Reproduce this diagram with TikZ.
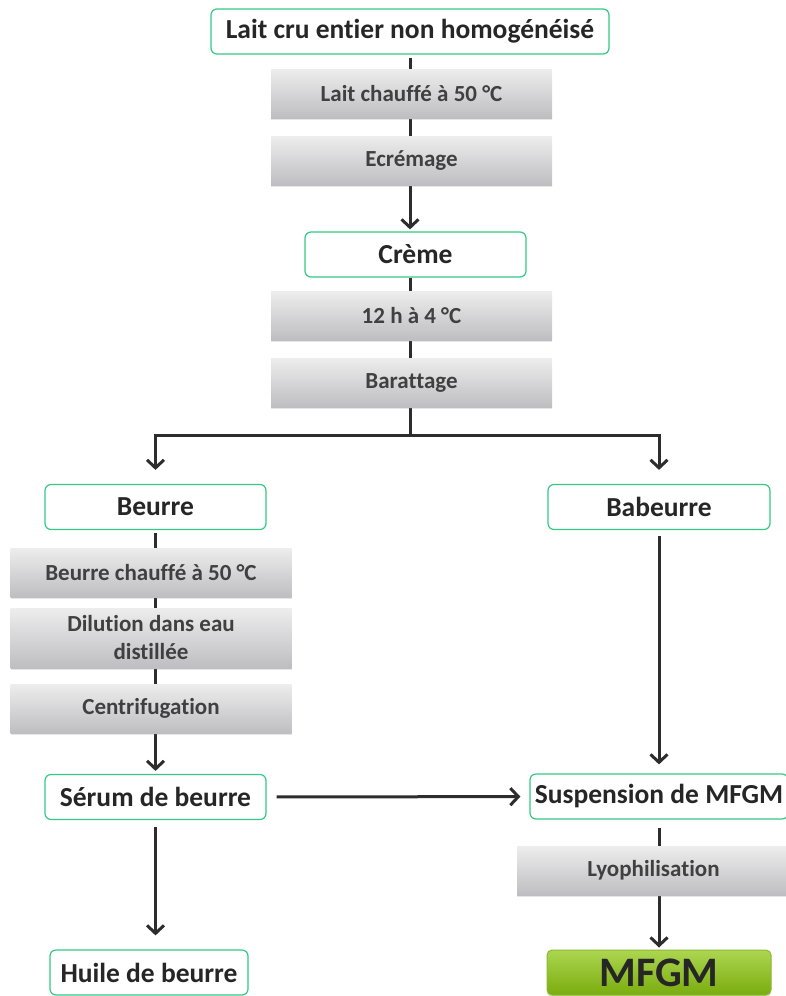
\documentclass[tikz,border=0pt]{standalone}
\usepackage{fontspec}
\setmainfont{Carlito}[Ligatures=NoCommon]
\usetikzlibrary{arrows.meta,shadows}

\definecolor{boxgreen}{RGB}{52,201,132}
\definecolor{textdark}{RGB}{38,38,38}
\definecolor{textgray}{RGB}{64,64,64}
\definecolor{linegray}{RGB}{45,45,45}
\definecolor{steptop}{RGB}{237,237,237}
\definecolor{stepbot}{RGB}{190,190,194}
\definecolor{mfgmtop}{RGB}{172,214,80}
\definecolor{mfgmbot}{RGB}{122,172,14}
\definecolor{mfgmline}{RGB}{140,185,50}

\tikzset{
  product/.style={draw=boxgreen, line width=1.2pt, rounded corners=6pt, fill=white,
    text=textdark, font=\bfseries\fontsize{27.5}{32}\selectfont,
    minimum height=45pt, inner sep=0pt},
  final/.style={draw=mfgmline, line width=1pt, rounded corners=5pt,
    top color=mfgmtop, bottom color=mfgmbot, text=textdark,
    font=\bfseries\fontsize{42}{46}\selectfont,
    minimum width=224pt, minimum height=45pt, inner sep=0pt,
    drop shadow={shadow xshift=0pt, shadow yshift=-2pt, opacity=0.25}},
  stage/.style={top color=steptop, bottom color=stepbot, text=textgray,
    font=\bfseries\fontsize{23}{28}\selectfont, align=center,
    minimum width=281pt, minimum height=49pt, inner sep=0pt,
    drop shadow={shadow xshift=0pt, shadow yshift=-1.5pt, opacity=0.2}},
  link/.style={line width=3pt, draw=linegray},
  flow/.style={link, -{Straight Barb[length=8pt,width=17pt,line width=3pt]}},
}

\begin{document}
\begin{tikzpicture}[x=1pt, y=-1pt]
  \useasboundingbox (0,0) rectangle (785,996);

  % produits
  \node[product, minimum width=398pt] (lait) at (410,31.5) {Lait cru entier non homogénéisé};
  \node[product, minimum width=221pt] (creme) at (415.5,254.5) {Crème};
  \node[product, minimum width=221pt] (beurre) at (155.5,507) {Beurre};
  \node[product, minimum width=222pt] (babeurre) at (659,507) {Babeurre};
  \node[product, minimum width=221pt] (serum) at (155.5,797) {Sérum de beurre};
  \node[product, minimum width=258pt] (susp) at (659,796.5) {Suspension de MFGM};
  \node[product, minimum width=198pt] (huile) at (149,972.5) {Huile de beurre};
  \node[final] (mfgm) at (659,972.5) {MFGM};

  % liaisons
  \coordinate (split) at (410,435);
  \draw[flow, shorten <=3pt, shorten >=2pt] (lait.south) -- (lait.south |- creme.north);
  \draw[link] (split |- creme.south) -- (split);
  \draw[flow, shorten >=14pt] (split) -| (beurre.north);
  \draw[flow, shorten >=14pt] (split) -| (babeurre.north);
  \draw[flow, shorten <=3pt, shorten >=3pt] (beurre) -- (serum);
  \draw[flow, shorten <=6pt, shorten >=9pt] (babeurre) -- (susp);
  \draw[flow, shorten <=10pt, shorten >=9pt] (serum) -- (susp);
  \draw[flow, shorten <=7pt, shorten >=14pt] (serum.south) -- (serum.south |- huile.north);
  \draw[flow, shorten <=8pt, shorten >=2pt] (susp) -- (mfgm);

  % etapes
  \node[stage] (chauffe) at (411.5,93.5) {Lait chauffé à 50 °C};
  \node[stage] (ecremage) at (411.5,160.5) {Ecrémage};
  \node[stage] (repos) at (411.5,315.5) {12 h à 4 °C};
  \node[stage] (barattage) at (411.5,382.5) {Barattage};
  \node[stage] (chauffeb) at (151,572.5) {Beurre chauffé à 50 °C};
  \node[stage, minimum height=60pt] (dilution) at (151,638) {Dilution dans eau\\distillée};
  \node[stage] (centri) at (151,708.5) {Centrifugation};
  \node[stage, minimum width=273pt] (lyo) at (653.5,870.5) {Lyophilisation};
\end{tikzpicture}
\end{document}
